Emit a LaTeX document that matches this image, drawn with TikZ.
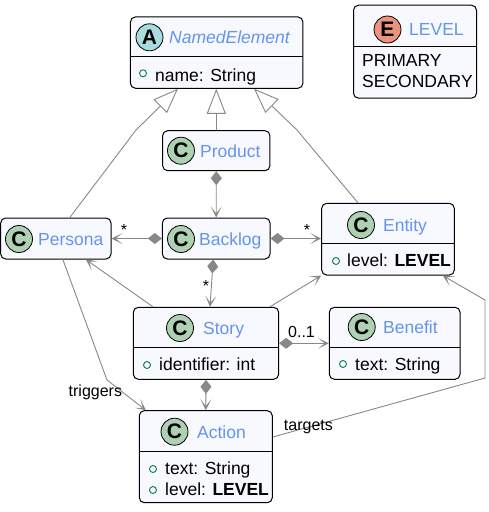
\documentclass[tikz,border=0pt]{standalone}
\usepackage{fontspec}
\setmainfont{Liberation Sans}
\usetikzlibrary{arrows.meta}
\definecolor{boxfill}{HTML}{F8F8FF}
\definecolor{namecol}{HTML}{6495ED}
\definecolor{linecol}{HTML}{888888}
\definecolor{ccirc}{HTML}{ADD1B2}
\definecolor{acirc}{HTML}{A9DCDF}
\definecolor{ecirc}{HTML}{EB937F}
\definecolor{attrcol}{HTML}{038048}
\newcommand{\umlfont}{\fontsize{17.5}{21}\selectfont}
\newcommand{\lblfont}{\fontsize{16}{19}\selectfont}
\newcommand{\iconfont}{\fontsize{21}{21}\selectfont\bfseries}
\begin{document}
\begin{tikzpicture}[x=1pt,y=-1pt,font=\umlfont,
    cls/.style={draw=black,fill=boxfill,rounded corners=5pt,line width=1pt,inner sep=0pt},
    icon/.style={circle,draw=black,line width=0.8pt,minimum size=27pt,inner sep=0pt,font=\iconfont},
    title/.style={anchor=base west,text=namecol,inner sep=0pt},
    attr/.style={anchor=base west,inner sep=0pt},
    dot/.style={circle,draw=attrcol,line width=0.9pt,minimum size=7pt,inner sep=0pt},
    sep/.style={draw=black,line width=1pt},
    link/.style={draw=linecol,line width=0.9pt},
    comp/.style={link,{Diamond[length=14pt,width=11pt]}-{Stealth[length=11pt,width=11pt,inset=7pt]}},
    dep/.style={link,-{Stealth[length=11pt,width=11pt,inset=7pt]}},
    isa/.style={link,-{Triangle[open,length=25pt,width=19pt,fill=white]}},
    lbl/.style={font=\lblfont,inner sep=1pt}]
\useasboundingbox (0,0) rectangle (488,512);
\node[cls,minimum width=172.5pt,minimum height=71.3pt](named)at(216.7,52.6){};
\node[icon,fill=acirc](namedicon)at(149.5,37.3){A};
\node[title,font=\umlfont\itshape](namedtitle)at(169,43.5){NamedElement};
\draw[sep](130.5,56.7)--(303,56.7);
\node[dot](nameddot)at(143,73.3){};
\node[attr](namedattr)at(155,81){name: String};
\node[cls,minimum width=123pt,minimum height=93pt](level)at(415,51.7){};
\node[icon,fill=ecirc](levelicon)at(387.5,29.5){E};
\node[title](leveltitle)at(409,35.8){LEVEL};
\draw[sep](353.5,46.7)--(476.5,46.7);
\node[attr](primary)at(362,66.7){PRIMARY};
\node[attr](secondary)at(362,87.3){SECONDARY};
\node[cls,minimum width=107.3pt,minimum height=40pt](product)at(216.3,150.7){};
\node[icon,fill=ccirc](producticon)at(181,150.7){C};
\node[title](producttitle)at(200,157){Product};
\node[cls,minimum width=110.3pt,minimum height=41pt](persona)at(55.85,238.5){};
\node[icon,fill=ccirc](personaicon)at(19,239){C};
\node[title](personatitle)at(38,245.3){Persona};
\node[cls,minimum width=107.7pt,minimum height=41pt](backlog)at(216.2,238.5){};
\node[icon,fill=ccirc](backlogicon)at(181,239){C};
\node[title](backlogtitle)at(199,245.3){Backlog};
\node[cls,minimum width=132.6pt,minimum height=71.7pt](entity)at(388,239.2){};
\node[icon,fill=ccirc](entityicon)at(361,225){C};
\node[title](entitytitle)at(383,231.3){Entity};
\draw[sep](321.7,243.3)--(454.3,243.3);
\node[dot](entitydot)at(336,261){};
\node[attr](entityattr)at(347,266.5){level: \textbf{LEVEL}};
\node[cls,minimum width=130.7pt,minimum height=72pt](benefit)at(394.7,343.3){};
\node[icon,fill=ccirc](benefiticon)at(361.7,327){C};
\node[title](benefittitle)at(383,333.3){Benefit};
\draw[sep](329.3,347.3)--(460,347.3);
\node[dot](benefitdot)at(343,364){};
\node[attr](benefitattr)at(355,370){text: String};
\node[cls,minimum width=145.3pt,minimum height=72pt](story)at(206,343.3){};
\node[icon,fill=ccirc](storyicon)at(180,328){C};
\node[title](storytitle)at(203,334.3){Story};
\draw[sep](133.3,347.7)--(278.7,347.7);
\node[dot](storydot)at(147,365){};
\node[attr](storyattr)at(159,370){identifier: int};
\node[cls,minimum width=133pt,minimum height=92pt](action)at(205.8,456.7){};
\node[icon,fill=ccirc](actionicon)at(174.5,431.7){C};
\node[title](actiontitle)at(197,438){Action};
\draw[sep](139.3,451.7)--(272.3,451.7);
\node[dot](actiondota)at(153,469){};
\node[attr](actiontext)at(165,474){text: String};
\node[dot](actiondotb)at(153,490){};
\node[attr](actionlevel)at(165,495){level: \textbf{LEVEL}};
\coordinate(personabend)at(136,130);
\coordinate(entitybend)at(297,130);
\coordinate(trigbend)at(107,380);
\coordinate(targetbenda)at(485,378);
\coordinate(targetbendb)at(485,300);
\draw[isa]([xshift=14pt]persona.north)--(personabend)--([xshift=-38.7pt]named.south);
\draw[isa](product.north)--(product.north|-named.south);
\draw[isa]([xshift=-30pt]entity.north)--(entitybend)--([xshift=37.3pt]named.south);
\draw[comp](product.south)--(backlog.north);
\draw[comp](backlog.west)--node[lbl,pos=0.75,above=2pt]{*}(persona.east);
\draw[comp](backlog.east)--node[lbl,pos=0.72,above=2pt]{*}(backlog.east-|entity.west);
\draw[comp]([xshift=-3pt]backlog.south)--node[lbl,pos=0.55,left=1pt]{*}([xshift=4pt]story.north);
\draw[dep]([xshift=-53pt]story.north)--([xshift=30pt]persona.south);
\draw[dep]([xshift=64pt]story.north)--(entity.south west);
\draw[comp](story.east)--node[lbl,pos=0.45,above=4pt]{0..1}(benefit.west);
\draw[comp](story.south)--(action.north);
\draw[dep]([xshift=7pt]persona.south)--(trigbend)--node[lbl,pos=0.4,anchor=east,inner sep=0pt]{triggers}([xshift=-60pt]action.north);
\draw[dep]([yshift=19.7pt]action.east)--node[lbl,pos=0.168,inner sep=0pt]{targets}(targetbenda)--(targetbendb)--([xshift=-12pt]entity.south east);
\end{tikzpicture}
\end{document}
